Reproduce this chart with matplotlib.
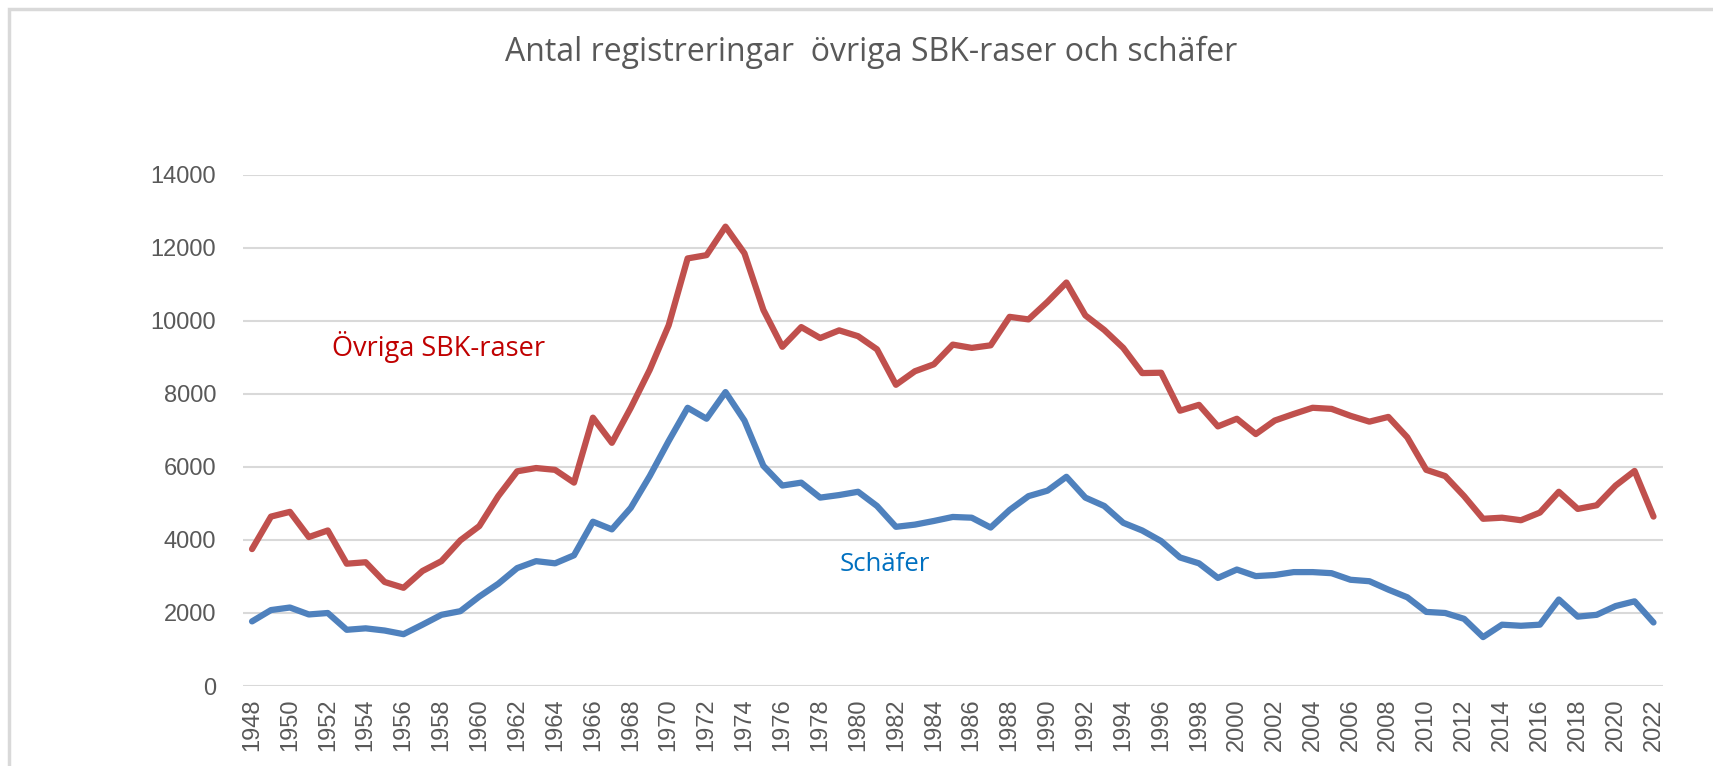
import matplotlib.pyplot as plt
from matplotlib.patches import Rectangle

years = list(range(1948, 2023))

ovriga = [3750, 4640, 4770, 4080, 4260, 3350, 3390, 2850, 2690, 3150,
          3420, 3990, 4380, 5200, 5880, 5970, 5920, 5570, 7350, 6660,
          7620, 8660, 9880, 11710, 11800, 12580, 11850, 10300, 9290, 9830,
          9530, 9740, 9580, 9220, 8250, 8620, 8810, 9350, 9260, 9330,
          10110, 10040, 10520, 11050, 10150, 9750, 9260, 8570, 8580, 7540,
          7700, 7110, 7320, 6900, 7270, 7450, 7620, 7590, 7400, 7240,
          7370, 6810, 5920, 5750, 5200, 4580, 4610, 4540, 4750, 5320,
          4850, 4950, 5490, 5890, 4640]

schafer = [1770, 2080, 2150, 1960, 2000, 1540, 1580, 1520, 1420, 1680,
           1950, 2050, 2450, 2800, 3230, 3420, 3360, 3580, 4500, 4290,
           4880, 5750, 6710, 7620, 7320, 8050, 7270, 6030, 5490, 5570,
           5160, 5230, 5320, 4930, 4360, 4420, 4520, 4630, 4610, 4340,
           4820, 5200, 5350, 5730, 5160, 4930, 4470, 4260, 3970, 3520,
           3360, 2960, 3190, 3010, 3040, 3120, 3120, 3090, 2910, 2870,
           2640, 2430, 2030, 2000, 1840, 1340, 1680, 1650, 1680, 2370,
           1900, 1950, 2190, 2320, 1740]

title = "Antal registreringar  övriga SBK-raser och schäfer"
grey = "#595959"

fig = plt.figure(figsize=(17.13, 7.66), dpi=100)
ax = fig.add_axes([0.1416, 0.1044, 0.8292, 0.6674])

ax.plot(years, ovriga, color="#C0504D", linewidth=4.5, solid_joinstyle="round", solid_capstyle="round")
ax.plot(years, schafer, color="#4F81BD", linewidth=4.5, solid_joinstyle="round", solid_capstyle="round")

ax.set_xlim(1947.5, 2022.5)
ax.set_ylim(0, 14000)
ax.set_yticks(range(0, 14001, 2000))
ax.set_xticks(years[::2])
ax.set_xticklabels([str(y) for y in years[::2]], rotation=90)
ax.tick_params(axis="both", length=0, colors=grey, labelsize=17)
ax.tick_params(axis="x", pad=9)
ax.tick_params(axis="y", pad=19)
for lab in ax.get_xticklabels() + ax.get_yticklabels():
    lab.set_family("Liberation Sans")

ax.grid(axis="y", color="#D9D9D9", linewidth=1.5)
ax.set_axisbelow(True)
for s in ax.spines.values():
    s.set_visible(False)

ax.text(1952.2, 9290, "Övriga SBK-raser", color="#C00000", fontsize=19.5,
        family="Open Sans", va="center", ha="left")
ax.text(1979.0, 3315, "Schäfer", color="#0070C0", fontsize=18.5,
        family="Open Sans", va="center", ha="left")

fig.text(0.5085, 0.932, title, color=grey, fontsize=23, family="Open Sans",
         ha="center", va="center")

# chart area border (top and left edges visible)
fig.patches.append(Rectangle((0.0055, -0.1), 1.1, 1.088, transform=fig.transFigure,
                             fill=False, edgecolor="#D9D9D9", linewidth=2.5))

fig.savefig("out.png", dpi=100, facecolor="white")
